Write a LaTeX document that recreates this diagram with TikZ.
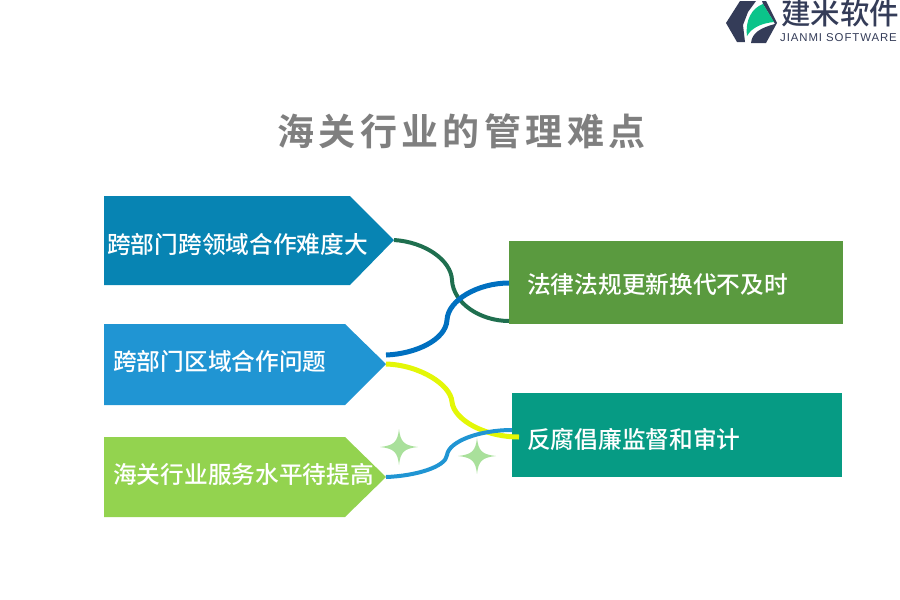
\documentclass[tikz,border=0pt]{standalone}
\usepackage{fontspec}
\newfontfamily\cjk{Noto Sans CJK SC Medium}
\newfontfamily\cjkb[LetterSpace=12]{Noto Sans CJK SC Bold}
\newfontfamily\latin{Liberation Sans}[LetterSpace=8]
\definecolor{a1}{HTML}{0784B3}
\definecolor{a2}{HTML}{2095D3}
\definecolor{a3}{HTML}{93D34F}
\definecolor{g1}{HTML}{5A9A3F}
\definecolor{g2}{HTML}{069B84}
\definecolor{c1}{HTML}{1F6F4F}
\definecolor{c2}{HTML}{0070C0}
\definecolor{c3}{HTML}{E3F707}
\definecolor{c4}{HTML}{2095D3}
\definecolor{star}{HTML}{A9E09B}
\definecolor{ink}{HTML}{343C58}
\definecolor{logog}{HTML}{0BC48A}
\tikzset{
  px/.style={x=1pt,y=-1pt},
  lab/.style={text=white,font=\cjk\fontsize{23.7}{26}\selectfont,anchor=west,inner sep=0pt},
  box/.style={anchor=north west,inner sep=0pt,outer sep=0pt},
}
\newcommand{\fourstar}[2]{\fill[star] (#1-19,#2) .. controls (#1-5,#2-1.5) and (#1-1.5,#2-5) .. (#1,#2-18) .. controls (#1+1.5,#2-5) and (#1+5,#2-1.5) .. (#1+19,#2) .. controls (#1+5,#2+1.5) and (#1+1.5,#2+5) .. (#1,#2+18) .. controls (#1-1.5,#2+5) and (#1-5,#2+1.5) .. (#1-19,#2) -- cycle;}
\begin{document}
\begin{tikzpicture}[px]
\useasboundingbox (0,0) rectangle (900,600);
\node[text={rgb,255:red,127;green,127;blue,127},font=\cjkb\fontsize{37}{40}\selectfont,inner sep=0pt] (title) at (461.5,131) {海关行业的管理难点};
% arrow boxes
\fill[a1] (104,196) -- (350,196) -- (394,240) -- (350,285) -- (104,285) -- cycle;
\fill[a2] (104,324) -- (345,324) -- (386,364) -- (345,405) -- (104,405) -- cycle;
\fill[a3] (104,437) -- (345,437) -- (386,477) -- (345,517) -- (104,517) -- cycle;
\node[box,fill=g1,minimum width=334pt,minimum height=83pt] (b1) at (509,241) {};
\node[box,fill=g2,minimum width=330pt,minimum height=84pt] (b2) at (512,393) {};
% connectors
\coordinate (p1) at (394,240);
\coordinate (p2) at (386,355);
\coordinate (p3) at (386,364);
\coordinate (p4) at (386,477);
\coordinate (q1a) at (509,321);
\coordinate (q2a) at (509,283);
\coordinate (q3a) at (519,437);
\coordinate (q4a) at (512,430);
\draw[c1,line width=4pt] (p1) .. controls (425,242) and (451,260) .. (452,280) .. controls (453,303) and (480,321) .. (q1a);
\draw[c2,line width=5pt] (p2) .. controls (415,354) and (446,340) .. (447,320) .. controls (448,300) and (478,283) .. (q2a);
\draw[c3,line width=5pt] (p3) .. controls (420,365) and (451,385) .. (452,402) .. controls (454,420) and (485,437) .. (q3a);
\draw[c4,line width=4pt] (p4) .. controls (415,476) and (446,467) .. (447,455) .. controls (449,441) and (480,430) .. (q4a);
\node[lab] (t1) at (107,244) {跨部门跨领域合作难度大};
\node[lab] (t2) at (113,361) {跨部门区域合作问题};
\node[lab] (t3) at (113,474) {海关行业服务水平待提高};
\node[lab] (t4) at (527,284) {法律法规更新换代不及时};
\node[lab] (t5) at (527,439) {反腐倡廉监督和审计};
\fourstar{399}{447}
\fourstar{477}{456}
% logo
\fill[ink] (740,1) -- (756,1) -- (748,12) -- (743,25) -- (745,42) -- (737,42) -- (726,23) -- cycle;
\fill[ink] (762,1) -- (766,1) -- (777,23) -- (766,43) -- (751,43) .. controls (752,33) and (760,28) .. (775,24) -- (763,4) -- cycle;
\fill[logog] (747,36) .. controls (745,20) and (752,8) .. (763,4) -- (774,22) .. controls (763,23) and (752,27) .. (747,36) -- cycle;
\node[text=ink,font=\cjk\fontsize{29.5}{30}\selectfont,inner sep=0pt,anchor=west] (lg1) at (781,13) {建米软件};
\node[text=ink,font=\latin\fontsize{11.4}{12}\selectfont,inner sep=0pt,anchor=west] (lg2) at (780,38) {JIANMI SOFTWARE};
\end{tikzpicture}
\end{document}
